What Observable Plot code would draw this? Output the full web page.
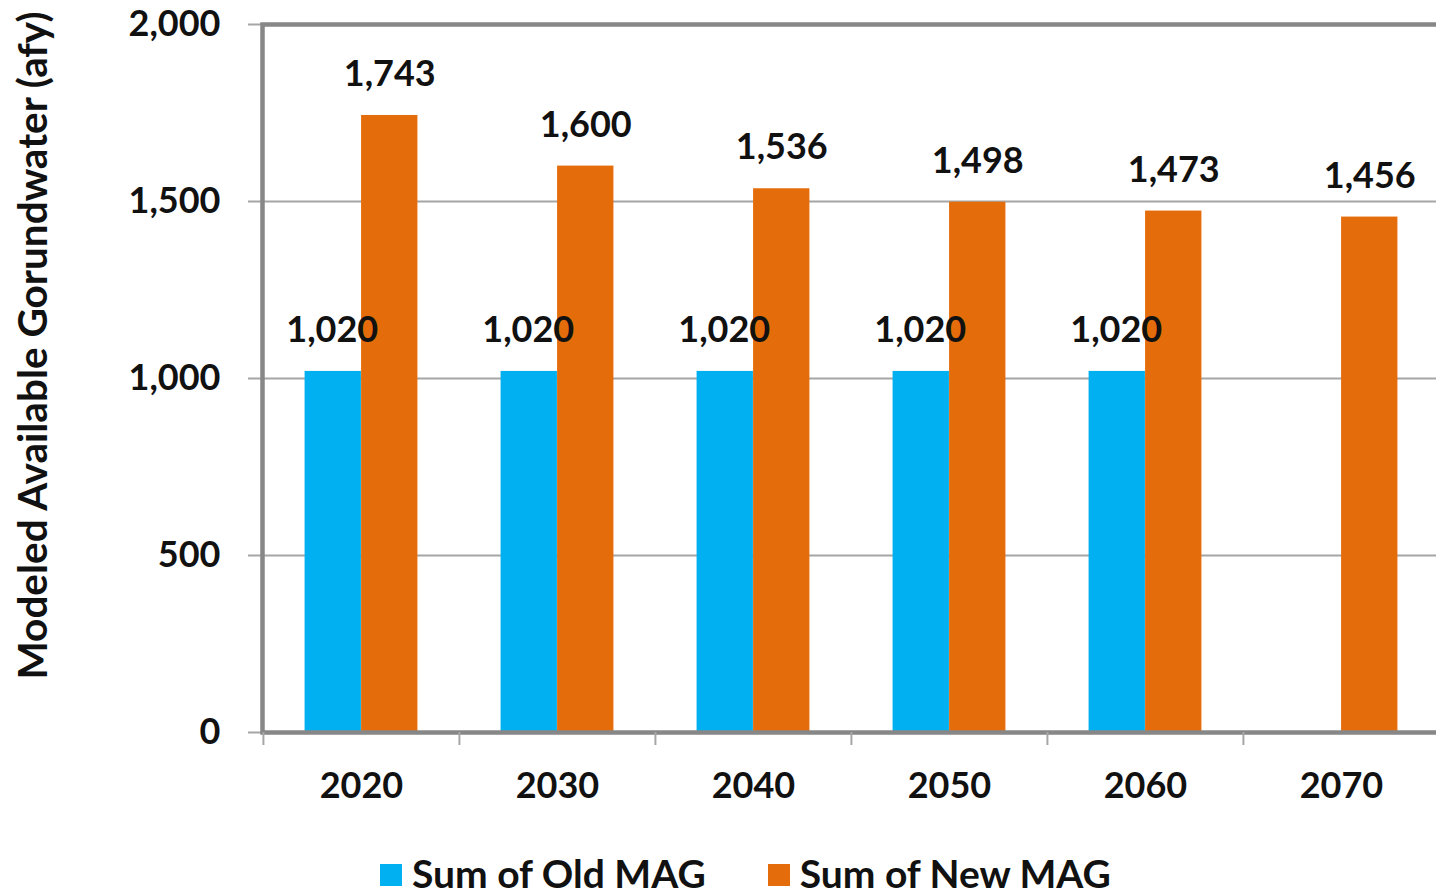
<!DOCTYPE html>
<html><head><meta charset="utf-8">
<script src="https://cdn.jsdelivr.net/npm/d3@7"></script>
<script src="https://cdn.jsdelivr.net/npm/@observablehq/plot@0.6"></script>
<style>
html,body{margin:0;padding:0;background:#fff;overflow:hidden;width:1436px;height:895px;}
#chart{position:absolute;left:0;top:0;}
#legend{position:absolute;left:380px;top:851px;display:flex;align-items:center;font-family:Lato,'Open Sans',sans-serif;font-weight:700;font-size:39px;color:#111;white-space:nowrap;line-height:44px;}
.item{display:flex;align-items:center;}
.sw{width:22px;height:22px;margin-right:10px;margin-top:4px;}
</style></head><body>
<div id="chart"></div>
<div id="legend"></div>
<script>
const years = ["2020","2030","2040","2050","2060","2070"];
const oldMAG = [1020,1020,1020,1020,1020,null];
const newMAG = [1743,1600,1536,1498,1473,1456];
const yTicks = [0,500,1000,1500,2000];
const seriesNames = ["Sum of Old MAG","Sum of New MAG"];
const seriesColors = ["#00B0F0","#E46C0A"];
const yLabel = "Modeled Available Gorundwater (afy)";

const W = 1440, H = 848, mL = 262, mR = 1, mT = 24, mB = H - 732;
const step = (W - mL - mR) / years.length;
const barW = 56.5;
const rows = years.map((y, i) => ({year: y, old: oldMAG[i], new: newMAG[i]}));
const oldRows = rows.filter(d => d.old != null);
const fmt = d3.format(",");
const font = "Lato, 'Open Sans', sans-serif";
const axisGray = "#878787", gridGray = "#a6a6a6", ink = "#111";

const plot = Plot.plot({
  width: W, height: H, marginLeft: mL, marginRight: mR, marginTop: mT, marginBottom: mB,
  style: {fontFamily: font, fontWeight: 700, fontSize: "36px", color: ink, background: "#fff", overflow: "visible", maxWidth: "none"},
  x: {domain: years, padding: 0, axis: null},
  y: {domain: [0, 2000], axis: null},
  marks: [
    Plot.ruleY(yTicks, {y: d => d, insetLeft: -14, stroke: gridGray, strokeWidth: 2}),
    Plot.barY(oldRows, {x: "year", y: "old", fill: seriesColors[0], insetLeft: step / 2 - barW, insetRight: step / 2}),
    Plot.barY(rows, {x: "year", y: "new", fill: seriesColors[1], insetLeft: step / 2, insetRight: step / 2 - barW}),
    Plot.frame({stroke: axisGray, strokeWidth: 4.5}),
    Plot.text(oldRows, {x: "year", y: "old", text: d => fmt(d.old), dx: -barW / 2 - 1, dy: -41, fill: ink, fontSize: 36, fontWeight: 700}),
    Plot.text(rows, {x: "year", y: "new", text: d => fmt(d.new), dx: barW / 2, dy: -41, fill: ink, fontSize: 36, fontWeight: 700}),
    Plot.axisY({ticks: yTicks, tickSize: 0, tickPadding: 42, tickFormat: fmt, label: null, fill: ink, fontSize: 36}),
    Plot.axisX({tickSize: 13, tickFormat: () => "", label: null, dx: -step / 2, stroke: gridGray, strokeWidth: 2}),
    Plot.axisX({tickSize: 0, tickPadding: 40, label: null, fill: ink, fontSize: 36}),
    Plot.text([yLabel], {frameAnchor: "left", textAnchor: "middle", lineAnchor: "middle", rotate: -90, dx: -228, dy: -33, fill: ink, fontSize: 40.5, fontWeight: 700})
  ]
});
document.getElementById("chart").appendChild(plot);

const legend = document.getElementById("legend");
seriesNames.forEach((name, i) => {
  const item = document.createElement("div");
  item.className = "item";
  if (i > 0) item.style.marginLeft = "62px";
  const sw = document.createElement("div");
  sw.className = "sw";
  sw.style.background = seriesColors[i];
  const t = document.createElement("span");
  t.textContent = name;
  item.appendChild(sw); item.appendChild(t);
  legend.appendChild(item);
});
</script>
</body></html>
